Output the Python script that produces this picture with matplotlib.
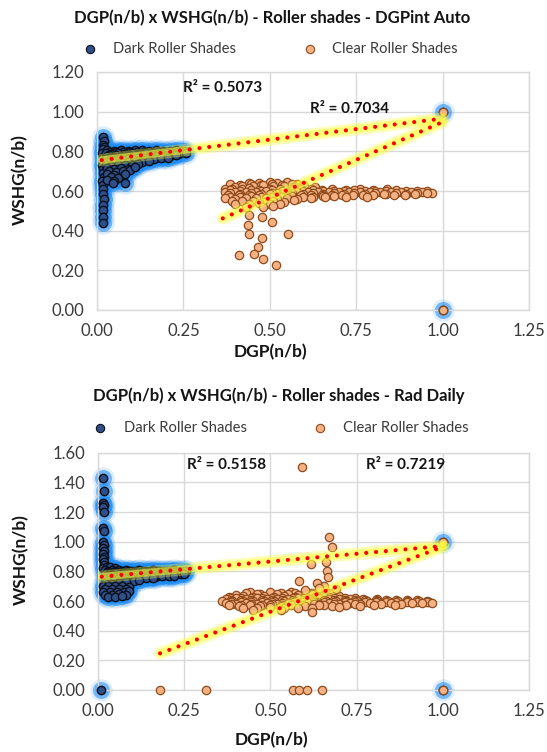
import matplotlib
matplotlib.use("Agg")
import matplotlib.pyplot as plt
from matplotlib.lines import Line2D

plt.rcParams['font.family'] = ['Lato', 'DejaVu Sans']

# ---------------- data: top chart (DGPint Auto) ----------------
dark_top_x = [
    # vertical column
    0.018, 0.020, 0.016, 0.019, 0.017, 0.015, 0.016, 0.018, 0.015, 0.017, 0.016,
    0.019, 0.015, 0.018, 0.017, 0.016, 0.019, 0.017, 0.018, 0.016, 0.018,
    # band
    0.03, 0.05, 0.07, 0.09, 0.11, 0.13, 0.15, 0.17, 0.19, 0.21, 0.23, 0.245, 0.255,
    0.035, 0.055, 0.075, 0.095, 0.115, 0.135, 0.155, 0.175, 0.195, 0.215, 0.235,
    0.025, 0.04, 0.06, 0.08, 0.10, 0.12, 0.14, 0.16, 0.18, 0.20, 0.22, 0.24, 0.258,
    0.035, 0.055, 0.075, 0.095, 0.115, 0.135, 0.155, 0.175, 0.195, 0.215, 0.235,
    0.03, 0.05, 0.07, 0.09, 0.11, 0.13, 0.15, 0.17, 0.19, 0.21, 0.23,
    0.035, 0.055, 0.075, 0.095, 0.115, 0.135, 0.155, 0.175, 0.195,
    0.025, 0.045, 0.065, 0.085, 0.105, 0.125, 0.145, 0.165, 0.185, 0.205,
    0.035, 0.055, 0.075, 0.095, 0.115, 0.135,
    0.03, 0.05, 0.07, 0.09, 0.11, 0.13, 0.15,
    0.025, 0.04, 0.06, 0.08, 0.10, 0.12,
    # wedge
    0.03, 0.05, 0.07, 0.09, 0.035, 0.055, 0.075, 0.095, 0.03, 0.05, 0.08,
    0.04, 0.06, 0.03, 0.05, 0.045, 0.08, 0.11,
    # extremes
    1.0, 1.0]
dark_top_y = [
    0.87, 0.85, 0.83, 0.82, 0.81, 0.79, 0.77, 0.75, 0.73, 0.71, 0.69,
    0.67, 0.65, 0.63, 0.61, 0.584, 0.558, 0.529, 0.504, 0.47, 0.44,
    0.806, 0.804, 0.808, 0.803, 0.806, 0.805, 0.802, 0.806, 0.804, 0.803, 0.805, 0.800, 0.802,
    0.798, 0.799, 0.797, 0.798, 0.796, 0.799, 0.797, 0.798, 0.796, 0.799, 0.797,
    0.792, 0.788, 0.791, 0.789, 0.793, 0.787, 0.790, 0.792, 0.788, 0.791, 0.789, 0.790, 0.793,
    0.783, 0.782, 0.784, 0.781, 0.783, 0.782, 0.784, 0.783, 0.782, 0.785, 0.786,
    0.776, 0.773, 0.777, 0.774, 0.776, 0.772, 0.775, 0.777, 0.774, 0.778, 0.780,
    0.768, 0.767, 0.769, 0.766, 0.768, 0.767, 0.769, 0.770, 0.772,
    0.761, 0.758, 0.762, 0.759, 0.760, 0.757, 0.762, 0.760, 0.765, 0.768,
    0.753, 0.752, 0.754, 0.752, 0.753, 0.756,
    0.746, 0.743, 0.747, 0.744, 0.745, 0.748, 0.752,
    0.731, 0.728, 0.732, 0.729, 0.733, 0.738,
    0.715, 0.712, 0.716, 0.713, 0.700, 0.697, 0.701, 0.705, 0.685, 0.683, 0.686,
    0.670, 0.668, 0.655, 0.652, 0.640, 0.638, 0.72,
    1.0, 0.0]

clear_top_x = [
    0.44, 0.47, 0.50, 0.52, 0.55, 0.58,
    0.385, 0.415, 0.445, 0.475, 0.505, 0.535, 0.565, 0.595,
    0.40, 0.42, 0.45, 0.48, 0.51, 0.54, 0.57, 0.60, 0.63,
    0.37, 0.39, 0.42, 0.44, 0.47, 0.50, 0.53, 0.56, 0.59, 0.62, 0.65, 0.68, 0.72, 0.76, 0.80, 0.84,
    0.385, 0.415, 0.445, 0.475, 0.505, 0.535, 0.565, 0.595, 0.625, 0.655, 0.685, 0.715,
    0.745, 0.775, 0.805, 0.835, 0.865, 0.895, 0.925, 0.955,
    0.37, 0.40, 0.43, 0.46, 0.49, 0.52, 0.55, 0.58, 0.61, 0.64, 0.67, 0.70, 0.73, 0.76, 0.79,
    0.82, 0.85, 0.88, 0.91, 0.94, 0.97,
    0.385, 0.415, 0.445, 0.475, 0.505, 0.535, 0.565, 0.595, 0.625, 0.655, 0.685, 0.715,
    0.745, 0.775, 0.805, 0.835, 0.865, 0.895, 0.925, 0.955,
    0.38, 0.41, 0.44, 0.47, 0.50, 0.53, 0.56, 0.59, 0.62, 0.65, 0.68, 0.71, 0.74, 0.77, 0.80,
    0.83, 0.86, 0.89, 0.92,
    0.385, 0.415, 0.445, 0.475, 0.505, 0.535, 0.565, 0.595, 0.625, 0.655, 0.685,
    0.37, 0.40, 0.43, 0.46, 0.49, 0.52, 0.55, 0.58, 0.62, 0.66, 0.72, 0.78,
    0.39, 0.42, 0.45, 0.48, 0.51, 0.54, 0.57,
    0.40, 0.44, 0.47, 0.50, 0.53,
    0.43, 0.48, 0.51,
    # outliers
    0.441, 0.476, 0.505, 0.438, 0.441, 0.477, 0.554, 0.465, 0.411, 0.453, 0.481, 0.517,
    1.0, 1.0]
clear_top_y = [
    0.638, 0.642, 0.645, 0.640, 0.643, 0.637,
    0.633, 0.631, 0.635, 0.632, 0.636, 0.630, 0.634, 0.631,
    0.622, 0.627, 0.624, 0.628, 0.623, 0.626, 0.621, 0.625, 0.620,
    0.608, 0.612, 0.609, 0.613, 0.607, 0.611, 0.609, 0.612, 0.608, 0.610, 0.606, 0.609, 0.607, 0.610, 0.606, 0.608,
    0.603, 0.600, 0.604, 0.601, 0.603, 0.600, 0.604, 0.601, 0.603, 0.600, 0.602, 0.601,
    0.603, 0.600, 0.602, 0.601, 0.603, 0.600, 0.601, 0.599,
    0.596, 0.593, 0.597, 0.594, 0.598, 0.592, 0.596, 0.594, 0.597, 0.593, 0.596, 0.594, 0.597, 0.593, 0.596,
    0.594, 0.597, 0.593, 0.595, 0.596, 0.592,
    0.588, 0.586, 0.589, 0.587, 0.588, 0.585, 0.589, 0.586, 0.588, 0.586, 0.589, 0.587,
    0.588, 0.586, 0.589, 0.587, 0.588, 0.586, 0.589, 0.588,
    0.581, 0.578, 0.582, 0.579, 0.583, 0.577, 0.581, 0.579, 0.582, 0.578, 0.581, 0.579, 0.582, 0.578, 0.580,
    0.583, 0.579, 0.581, 0.584,
    0.572, 0.570, 0.573, 0.571, 0.572, 0.569, 0.573, 0.570, 0.572, 0.574, 0.573,
    0.566, 0.562, 0.567, 0.563, 0.566, 0.561, 0.565, 0.562, 0.567, 0.570, 0.568, 0.572,
    0.551, 0.548, 0.552, 0.547, 0.550, 0.546, 0.553,
    0.535, 0.532, 0.537, 0.533, 0.536,
    0.521, 0.518, 0.522,
    0.479, 0.470, 0.445, 0.428, 0.381, 0.364, 0.383, 0.318, 0.277, 0.281, 0.257, 0.228,
    1.0, 0.0]

# trendlines (endpoints)
dark_top_trend_x = [0.014, 1.0]
dark_top_trend_y = [0.756, 0.965]
clear_top_trend_x = [0.364, 1.0]
clear_top_trend_y = [0.462, 0.948]
r2_top = ["R² = 0.5073", "R² = 0.7034"]

# ---------------- data: bottom chart (Rad Daily) ----------------
dark_bot_x = [
    0.015, 0.016, 0.015, 0.017, 0.015, 0.016, 0.015, 0.016, 0.015, 0.017, 0.015, 0.016,
    0.015, 0.017, 0.015, 0.016, 0.017, 0.015,
    0.025, 0.035, 0.05,
    0.02, 0.04, 0.06, 0.08, 0.10, 0.12, 0.14, 0.16, 0.18, 0.20, 0.22, 0.24, 0.255,
    0.03, 0.05, 0.07, 0.09, 0.11, 0.13, 0.15, 0.17, 0.19, 0.21, 0.23, 0.25,
    0.025, 0.045, 0.065, 0.085, 0.105, 0.125, 0.145, 0.165, 0.185, 0.205, 0.225, 0.245,
    0.03, 0.05, 0.07, 0.09, 0.11, 0.13, 0.15, 0.17, 0.19, 0.21, 0.23,
    0.02, 0.04, 0.06, 0.08, 0.10, 0.12, 0.14, 0.16, 0.18, 0.20, 0.22, 0.24, 0.25,
    0.03, 0.05, 0.07, 0.09, 0.11, 0.13, 0.15, 0.17, 0.19, 0.21,
    0.025, 0.045, 0.065, 0.085, 0.105, 0.125, 0.145, 0.165, 0.185, 0.205, 0.22,
    0.03, 0.05, 0.07, 0.09, 0.11, 0.13, 0.15,
    0.02, 0.04, 0.06, 0.08, 0.10, 0.12, 0.14, 0.16,
    0.025, 0.045, 0.065, 0.085, 0.105, 0.12,
    0.02, 0.04, 0.06, 0.08,
    0.015, 0.03, 0.05, 0.07, 0.09, 0.02, 0.04, 0.06, 0.08, 0.015, 0.035, 0.055, 0.075, 0.09,
    0.02, 0.04, 0.06, 0.08, 0.03, 0.05, 0.07,
    0.01, 1.0, 1.0]
dark_bot_y = [
    1.427, 1.342, 1.263, 1.247, 1.236, 1.202, 1.090, 1.074, 1.0, 0.98, 0.96, 0.94,
    0.92, 0.90, 0.88, 0.86, 0.84, 0.82,
    0.832, 0.828, 0.825,
    0.812, 0.808, 0.806, 0.807, 0.805, 0.806, 0.804, 0.806, 0.805, 0.804, 0.806, 0.803, 0.805,
    0.802, 0.800, 0.801, 0.799, 0.801, 0.800, 0.802, 0.800, 0.801, 0.799, 0.800, 0.799,
    0.796, 0.793, 0.797, 0.794, 0.795, 0.792, 0.796, 0.794, 0.797, 0.793, 0.795, 0.792,
    0.788, 0.786, 0.789, 0.787, 0.788, 0.786, 0.789, 0.787, 0.788, 0.787, 0.789,
    0.781, 0.778, 0.782, 0.779, 0.780, 0.777, 0.781, 0.779, 0.782, 0.778, 0.780, 0.781, 0.783,
    0.773, 0.771, 0.774, 0.772, 0.773, 0.771, 0.774, 0.772, 0.775, 0.777,
    0.766, 0.763, 0.767, 0.764, 0.765, 0.762, 0.766, 0.764, 0.767, 0.770, 0.772,
    0.758, 0.756, 0.759, 0.757, 0.758, 0.760, 0.762,
    0.751, 0.748, 0.752, 0.749, 0.750, 0.753, 0.755, 0.758,
    0.736, 0.733, 0.737, 0.734, 0.738, 0.742,
    0.721, 0.718, 0.722, 0.725,
    0.700, 0.702, 0.698, 0.701, 0.697, 0.682, 0.679, 0.683, 0.680, 0.662, 0.660, 0.664, 0.661, 0.665,
    0.643, 0.641, 0.645, 0.642, 0.630, 0.628, 0.632,
    0.0, 1.0, 0.0]

clear_bot_x = [
    0.44, 0.50, 0.56, 0.60, 0.64,
    0.43, 0.47, 0.53, 0.57, 0.62, 0.67,
    0.40, 0.46, 0.52, 0.55, 0.58, 0.62, 0.66, 0.68,
    0.38, 0.42, 0.45, 0.48, 0.51, 0.54, 0.57, 0.60, 0.63, 0.65, 0.67, 0.70,
    0.385, 0.415, 0.445, 0.475, 0.505, 0.535, 0.565, 0.595, 0.625, 0.655, 0.685, 0.715, 0.745,
    0.37, 0.40, 0.43, 0.46, 0.49, 0.52, 0.55, 0.58, 0.61, 0.64, 0.67, 0.70, 0.73, 0.77, 0.81,
    0.385, 0.415, 0.445, 0.475, 0.505, 0.535, 0.565, 0.595, 0.625, 0.655, 0.685, 0.715,
    0.745, 0.775, 0.805, 0.835, 0.865, 0.895, 0.925, 0.955,
    0.36, 0.39, 0.42, 0.45, 0.48, 0.51, 0.54, 0.57, 0.60, 0.63, 0.66, 0.69, 0.72, 0.75, 0.78,
    0.81, 0.84, 0.87, 0.90, 0.93, 0.96,
    0.385, 0.415, 0.445, 0.475, 0.505, 0.535, 0.565, 0.595, 0.625, 0.655, 0.685, 0.715,
    0.745, 0.775, 0.805, 0.835, 0.865, 0.895, 0.925, 0.955,
    0.37, 0.40, 0.43, 0.46, 0.49, 0.52, 0.55, 0.58, 0.61, 0.64, 0.67, 0.70, 0.73, 0.76, 0.79,
    0.82, 0.85, 0.88, 0.91, 0.94, 0.97,
    0.385, 0.415, 0.445, 0.475, 0.505, 0.535, 0.565, 0.595, 0.625, 0.655, 0.685, 0.715, 0.745,
    0.38, 0.41, 0.44, 0.47, 0.50, 0.53, 0.56, 0.60, 0.64, 0.68, 0.72, 0.76, 0.80, 0.86,
    0.42, 0.46, 0.50, 0.54, 0.58, 0.62, 0.70,
    0.45, 0.53, 0.62,
    # outliers
    0.671, 0.678, 0.617, 0.661, 0.663, 0.668, 0.583, 0.634, 0.591, 0.655, 0.640, 0.690, 0.600,
    # zeros
    0.180, 0.313, 0.565, 0.583, 0.605, 0.651, 1.0,
    1.0]
clear_bot_y = [
    0.658, 0.662, 0.660, 0.665, 0.663,
    0.652, 0.650, 0.654, 0.651, 0.655, 0.657,
    0.643, 0.647, 0.644, 0.648, 0.642, 0.646, 0.650, 0.645,
    0.628, 0.632, 0.629, 0.633, 0.627, 0.631, 0.628, 0.632, 0.630, 0.634, 0.629, 0.631,
    0.622, 0.620, 0.623, 0.621, 0.622, 0.619, 0.623, 0.620, 0.622, 0.624, 0.621, 0.620, 0.619,
    0.613, 0.617, 0.614, 0.618, 0.612, 0.616, 0.613, 0.617, 0.614, 0.618, 0.613, 0.615, 0.612, 0.614, 0.611,
    0.607, 0.605, 0.608, 0.606, 0.607, 0.604, 0.608, 0.605, 0.607, 0.606, 0.608, 0.606,
    0.607, 0.605, 0.606, 0.604, 0.606, 0.605, 0.604, 0.603,
    0.598, 0.602, 0.599, 0.603, 0.597, 0.601, 0.598, 0.602, 0.599, 0.603, 0.597, 0.601, 0.598, 0.600, 0.597,
    0.601, 0.598, 0.600, 0.597, 0.599, 0.596,
    0.592, 0.590, 0.593, 0.591, 0.592, 0.589, 0.593, 0.590, 0.592, 0.590, 0.593, 0.591,
    0.592, 0.590, 0.593, 0.591, 0.592, 0.590, 0.591, 0.590,
    0.586, 0.582, 0.587, 0.583, 0.586, 0.581, 0.585, 0.582, 0.587, 0.583, 0.586, 0.582, 0.585, 0.583, 0.586,
    0.582, 0.585, 0.583, 0.586, 0.584, 0.585,
    0.577, 0.575, 0.578, 0.576, 0.577, 0.574, 0.578, 0.575, 0.577, 0.576, 0.578, 0.576, 0.577,
    0.571, 0.567, 0.572, 0.568, 0.571, 0.566, 0.570, 0.567, 0.572, 0.569, 0.571, 0.568, 0.572, 0.574,
    0.556, 0.552, 0.557, 0.553, 0.556, 0.551, 0.560,
    0.541, 0.538, 0.528,
    1.034, 0.962, 0.850, 0.865, 0.804, 0.760, 0.737, 0.724, 1.506, 0.700, 0.690, 0.680, 0.675,
    0.0, 0.0, 0.0, 0.0, 0.0, 0.0, 0.0,
    1.0]

dark_bot_trend_x = [0.011, 1.0]
dark_bot_trend_y = [0.764, 0.971]
clear_bot_trend_x = [0.18, 1.0]
clear_bot_trend_y = [0.247, 0.966]
r2_bot = ["R² = 0.5158", "R² = 0.7219"]

series_names = ["Dark Roller Shades", "Clear Roller Shades"]
titles = ["DGP(n/b) x WSHG(n/b) - Roller shades - DGPint Auto",
          "DGP(n/b) x WSHG(n/b) - Roller shades - Rad Daily"]
x_ticks = [0.0, 0.25, 0.5, 0.75, 1.0, 1.25]
y_ticks_top = [0.0, 0.2, 0.4, 0.6, 0.8, 1.0, 1.2]
y_ticks_bot = [0.0, 0.2, 0.4, 0.6, 0.8, 1.0, 1.2, 1.4, 1.6]

# ---------------- styling ----------------
W, H = 547, 752
DARK_FILL = '#2f4f88'
DARK_EDGE = '#0a0f1c'
CLEAR_FILL = '#f4b183'
CLEAR_EDGE = '#8f4a1c'
GLOW = '#1e8cf5'
GRID = '#d9d9d9'
TXT = '#3a3a3a'
BLACK = '#141414'

fig = plt.figure(figsize=(W / 100, H / 100), dpi=100)


def fx(px):
    return px / W


def fy(py):
    return 1 - py / H


def make_axes(left, top, right, bottom):
    return fig.add_axes([fx(left), fy(bottom), fx(right) - fx(left), fy(top) - fy(bottom)])


def draw(ax, dx, dy, cx, cy, dtx, dty, ctx, cty, yticks):
    ax.set_xlim(0, 1.25)
    ax.set_ylim(0, yticks[-1])
    ax.set_xticks(x_ticks)
    ax.set_yticks(yticks)
    ax.set_xticklabels([f"{t:.2f}" for t in x_ticks])
    ax.set_yticklabels([f"{t:.2f}" for t in yticks])
    ax.grid(True, color=GRID, lw=1.0, zorder=0)
    ax.set_axisbelow(True)
    for s in ax.spines.values():
        s.set_color(GRID)
        s.set_linewidth(1.0)
    ax.tick_params(length=0, labelsize=12, colors=TXT, pad=9)
    ax.tick_params(axis='x', pad=9)
    # glow for dark series
    ax.scatter(dx, dy, s=260, color=GLOW, alpha=0.15, lw=0, zorder=2, clip_on=False)
    ax.scatter(dx, dy, s=150, color=GLOW, alpha=0.55, lw=0, zorder=2, clip_on=False)
    ax.scatter(dx, dy, s=36, color=DARK_FILL, edgecolors=DARK_EDGE, linewidths=1.0,
               zorder=3, clip_on=False)
    ax.scatter(cx, cy, s=36, color=CLEAR_FILL, edgecolors=CLEAR_EDGE, linewidths=0.9,
               zorder=4, clip_on=False)
    for tx, ty in ((dtx, dty), (ctx, cty)):
        ax.plot(tx, ty, color='#ffff40', alpha=0.35, lw=9, solid_capstyle='round', zorder=5)
        ax.plot(tx, ty, color='#ffff40', alpha=0.55, lw=5.5, solid_capstyle='round', zorder=5)
        ax.plot(tx, ty, color='#ff0000', lw=3.0, linestyle=(0, (0.01, 2.35)),
                dash_capstyle='round', zorder=6)


ax1 = make_axes(97, 72, 529, 310)
draw(ax1, dark_top_x, dark_top_y, clear_top_x, clear_top_y,
     dark_top_trend_x, dark_top_trend_y, clear_top_trend_x, clear_top_trend_y, y_ticks_top)

ax2 = make_axes(98, 452.7, 529, 690)
draw(ax2, dark_bot_x, dark_bot_y, clear_bot_x, clear_bot_y,
     dark_bot_trend_x, dark_bot_trend_y, clear_bot_trend_x, clear_bot_trend_y, y_ticks_bot)

# titles
fig.text(fx(272), fy(18), titles[0], ha='center', va='center', fontsize=12,
         fontweight='bold', color=BLACK)
fig.text(fx(279), fy(396), titles[1], ha='center', va='center', fontsize=12,
         fontweight='bold', color=BLACK)


def legend(y, x_dark, x_dark_txt, x_clear, x_clear_txt):
    fig.add_artist(Line2D([fx(x_dark)], [fy(y)], marker='o', markersize=6,
                          markerfacecolor=DARK_FILL, markeredgecolor=DARK_EDGE,
                          markeredgewidth=0.8, transform=fig.transFigure))
    fig.add_artist(Line2D([fx(x_clear)], [fy(y)], marker='o', markersize=6,
                          markerfacecolor=CLEAR_FILL, markeredgecolor=CLEAR_EDGE,
                          markeredgewidth=0.8, transform=fig.transFigure))
    fig.text(fx(x_dark_txt), fy(y), series_names[0], ha='left', va='center',
             fontsize=10.6, color=TXT)
    fig.text(fx(x_clear_txt), fy(y), series_names[1], ha='left', va='center',
             fontsize=10.6, color=TXT)


legend(49, 90, 113, 310, 332)
legend(428, 100, 124, 320, 343)

# axis labels
fig.text(fx(20), fy(180), "WSHG(n/b)", rotation=90, ha='center', va='center',
         fontsize=12.5, fontweight='bold', color=BLACK)
fig.text(fx(21), fy(560), "WSHG(n/b)", rotation=90, ha='center', va='center',
         fontsize=12.5, fontweight='bold', color=BLACK)
fig.text(fx(270), fy(352), "DGP(n/b)", ha='center', va='center',
         fontsize=12.5, fontweight='bold', color=BLACK)
fig.text(fx(271), fy(740), "DGP(n/b)", ha='center', va='center',
         fontsize=12.5, fontweight='bold', color=BLACK)

# R² labels
fig.text(fx(183), fy(88), r2_top[0], ha='left', va='center', fontsize=11,
         fontweight='bold', color=BLACK)
fig.text(fx(310), fy(109), r2_top[1], ha='left', va='center', fontsize=11,
         fontweight='bold', color=BLACK)
fig.text(fx(187), fy(465), r2_bot[0], ha='left', va='center', fontsize=11,
         fontweight='bold', color=BLACK)
fig.text(fx(366), fy(465), r2_bot[1], ha='left', va='center', fontsize=11,
         fontweight='bold', color=BLACK)

fig.savefig("out.png", dpi=100, facecolor='white')
